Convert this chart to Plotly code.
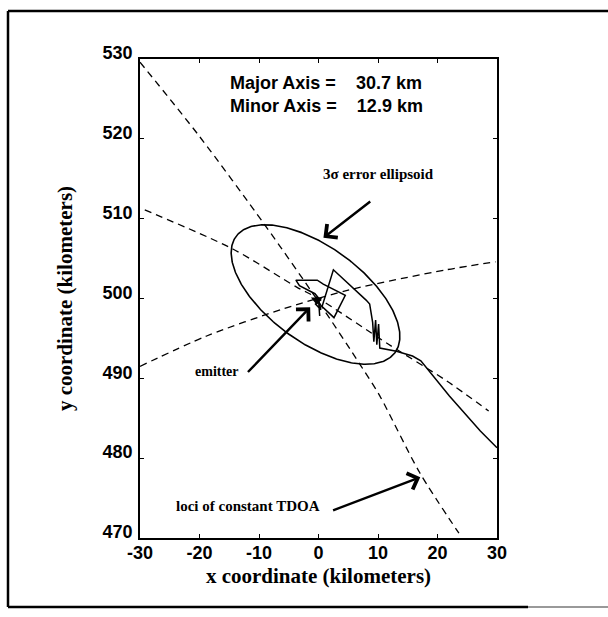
import numpy as np
import plotly.graph_objects as go

# ---------------- data (km) ----------------
loci1_x = [-30.0, -20.1, -9.1, 0.0, 7.1, 10.3, 17.0, 23.6]
loci1_y = [529.6, 520.4, 509.3, 499.6, 491.6, 487.8, 478.2, 470.6]

loci2_x = [-29.2, -14.4, -3.6, 0.0, 11.7, 21.5, 28.6]
loci2_y = [511.1, 506.2, 501.4, 500.0, 494.3, 489.7, 485.9]

loci3_x = [-30.0, -18.8, -5.9, 5.3, 21.5, 29.8]
loci3_y = [491.5, 495.3, 498.7, 501.1, 503.6, 504.6]

track_x = [30.0, 28.7, 27.2, 22.0, 17.2, 15.8, 13.1, 10.3, 10.1, 9.8, 9.6, 9.3, 9.1,
           8.6, 8.0, 2.5, 0.6, 2.6, 4.5, 0.8, -0.2, -3.8, -3.2, -0.6, 0.3, -0.5, 0.4, 0.0, 0.2]
track_y = [481.3, 482.3, 483.4, 487.8, 492.2, 492.8, 493.4, 493.8, 496.8, 494.2, 497.3, 494.6, 497.0,
           499.3, 499.8, 503.6, 499.0, 497.6, 500.4, 501.8, 502.3, 502.3, 501.6, 500.6, 499.8, 499.3, 498.6, 499.9, 497.8]

emitter_x = [-0.3]
emitter_y = [499.8]

ellipse_center = (-0.5, 500.5)
major_axis_km = 30.7
minor_axis_km = 12.9
ellipse_angle_deg = -25.0

x_ticks = [-30, -20, -10, 0, 10, 20, 30]
x_tick_labels = ["-30", "-20", "-10", "0", "10", "20", "30"]
y_ticks = [470, 480, 490, 500, 510, 520, 530]
y_tick_labels = ["470", "480", "490", "500", "510", "520", "530"]

# ellipse outline from its parameters
t = np.linspace(0, 2 * np.pi, 361)
a, b = major_axis_km / 2, minor_axis_km / 2
th = np.deg2rad(ellipse_angle_deg)
ell_x = ellipse_center[0] + a * np.cos(t) * np.cos(th) - b * np.sin(t) * np.sin(th)
ell_y = ellipse_center[1] + a * np.cos(t) * np.sin(th) + b * np.sin(t) * np.cos(th)

fig = go.Figure()
dash = "7px,5px"
for lx, ly in [(loci1_x, loci1_y), (loci2_x, loci2_y), (loci3_x, loci3_y)]:
    fig.add_trace(go.Scatter(x=lx, y=ly, mode="lines",
                             line=dict(color="black", width=1.3, dash=dash, shape="spline", smoothing=0.8),
                             showlegend=False, hoverinfo="skip"))
fig.add_trace(go.Scatter(x=ell_x, y=ell_y, mode="lines", line=dict(color="black", width=1.6),
                         showlegend=False, hoverinfo="skip"))
fig.add_trace(go.Scatter(x=track_x, y=track_y, mode="lines", line=dict(color="black", width=1.5),
                         showlegend=False, hoverinfo="skip"))
fig.add_trace(go.Scatter(x=emitter_x, y=emitter_y, mode="markers",
                         marker=dict(color="black", size=10, symbol="triangle-down"),
                         showlegend=False, hoverinfo="skip"))

serif = "Liberation Serif"
sans = "Liberation Sans"
ann_font = dict(family=serif, size=14, color="black", weight="bold")

annotations = [
    dict(x=-15.2, y=525.6, xref="x", yref="y", xanchor="left", yanchor="middle", align="left",
         showarrow=False, text="Major Axis =    30.7 km<br>Minor Axis =    12.9 km",
         font=dict(family=sans, size=18, color="black", weight="bold")),
    dict(x=10.0, y=515.6, xref="x", yref="y", showarrow=False, text="3σ error ellipsoid",
         font=dict(family=serif, size=15, color="black", weight="bold")),
    dict(x=0.83, y=507.6, ax=8.95, ay=512.3, xref="x", yref="y", axref="x", ayref="y", text="",
         showarrow=True, arrowhead=4, arrowsize=1.4, arrowwidth=2.4, arrowcolor="black", standoff=0),
    dict(x=-17.0, y=490.8, xref="x", yref="y", showarrow=False, text="emitter", font=ann_font),
    dict(x=-1.4, y=498.9, ax=-12.1, ay=490.6, xref="x", yref="y", axref="x", ayref="y", text="",
         showarrow=True, arrowhead=4, arrowsize=1.4, arrowwidth=2.4, arrowcolor="black", standoff=0),
    dict(x=-11.9, y=474.0, xref="x", yref="y", showarrow=False, text="loci of constant TDOA",
         font=dict(family=serif, size=15, color="black", weight="bold")),
    dict(x=17.1, y=477.6, ax=2.2, ay=473.4, xref="x", yref="y", axref="x", ayref="y", text="",
         showarrow=True, arrowhead=4, arrowsize=1.4, arrowwidth=2.4, arrowcolor="black", standoff=0),
]

# outer frame (paper coords relative to plot area)
L, R, T, B = 140, 111, 59, 79
W, H = 608, 617
pw, ph = W - L - R, H - T - B
def px(x): return (x - L) / pw
def py(y): return (H - B - y) / ph
shapes = [
    dict(type="line", xref="paper", yref="paper", x0=px(8), x1=px(608), y0=py(11), y1=py(11),
         line=dict(color="black", width=2.5)),
    dict(type="line", xref="paper", yref="paper", x0=px(8), x1=px(8), y0=py(11), y1=py(607),
         line=dict(color="black", width=2.5)),
    dict(type="line", xref="paper", yref="paper", x0=px(8), x1=px(528), y0=py(607), y1=py(607),
         line=dict(color="black", width=2.5)),
    dict(type="line", xref="paper", yref="paper", x0=px(528), x1=px(608), y0=py(607), y1=py(607),
         line=dict(color="#999999", width=2)),
]

tickfont = dict(family=sans, size=18, color="black", weight="bold")
titlefont = dict(family=serif, size=21, color="black", weight="bold")

fig.update_layout(
    width=W, height=H, margin=dict(l=L, r=R, t=T, b=B, pad=0),
    paper_bgcolor="white", plot_bgcolor="white",
    annotations=annotations, shapes=shapes,
    xaxis=dict(range=[-30, 30], tickvals=x_ticks, ticktext=x_tick_labels, ticks="inside", ticklen=4,
               tickcolor="black", showline=True, linecolor="black", linewidth=1.6, mirror="ticks",
               showgrid=False, zeroline=False, tickfont=tickfont, ticklabelstandoff=-2,
               title=dict(text="x coordinate (kilometers)", font=titlefont, standoff=6)),
    yaxis=dict(range=[470, 530], tickvals=y_ticks, ticktext=y_tick_labels, ticks="inside", ticklen=4,
               tickcolor="black", showline=True, linecolor="black", linewidth=1.6, mirror="ticks",
               showgrid=False, zeroline=False, tickfont=tickfont, ticklabelshift=-6, ticklabelstandoff=2,
               title=dict(text="y coordinate (kilometers)", font=titlefont, standoff=24)),
)

fig.write_html("out.html")
